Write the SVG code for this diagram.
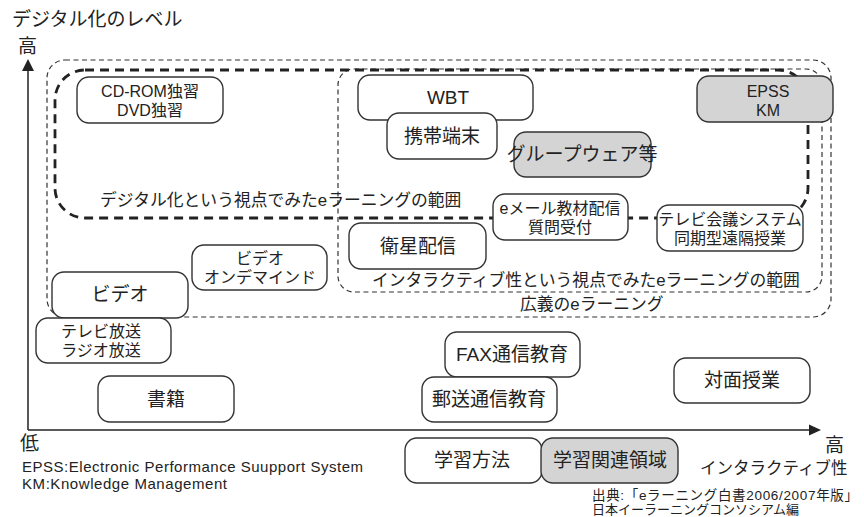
<svg xmlns="http://www.w3.org/2000/svg" width="864" height="517" viewBox="0 0 864 517">
<defs>
<style>
text{font-family:"Liberation Sans","Noto Sans CJK JP",sans-serif;fill:#222;}
.bx{fill:#fff;stroke:#333;stroke-width:1.4;}
.gy{fill:#d4d4d4;stroke:#333;stroke-width:1.4;}
.t{text-anchor:middle;font-size:19px;}
.t2{text-anchor:middle;font-size:16px;}
.fine{fill:none;stroke:#333;stroke-width:1.2;stroke-dasharray:5 3.5;}
.thick{fill:none;stroke:#222;stroke-width:2.8;stroke-dasharray:9 6;}
.axis{fill:none;stroke:#222;stroke-width:1.5;}
</style>
</defs>
<rect width="864" height="517" fill="#fff"/>

<g id="connectors">
<rect class="fine" x="47" y="60" width="784" height="257" rx="18"/>
<rect class="fine" x="338" y="69" width="484" height="223" rx="16"/>
<rect class="thick" x="55" y="70" width="753" height="148" rx="30"/>
<line class="axis" x1="28" y1="430" x2="28" y2="70"/>
<polygon points="28,59 22,71 34,71" fill="#222"/>
<line class="axis" x1="28" y1="430" x2="810" y2="430"/>
<polygon points="821,430 809,424.5 809,435.5" fill="#222"/>
</g>

<g id="labels">
<text x="12" y="26" font-size="19">デジタル化のレベル</text>
<text x="18" y="53" font-size="19">高</text>
<text x="20" y="450" font-size="19">低</text>
<text x="825" y="452" font-size="19">高</text>
<text x="700" y="474" font-size="16.5">インタラクティブ性</text>
<text x="100" y="206" font-size="16.8">デジタル化という視点でみたeラーニングの範囲</text>
<text x="372" y="286" font-size="16.8">インタラクティブ性という視点でみたeラーニングの範囲</text>
<text x="520" y="310" font-size="16.8">広義のeラーニング</text>
<text x="22" y="472" font-size="15" textLength="341">EPSS:Electronic Performance Suupport System</text>
<text x="22" y="489" font-size="15" textLength="205">KM:Knowledge Management</text>
<text x="592" y="500" font-size="13.5" textLength="266">出典:「eラーニング白書2006/2007年版」</text>
<text x="592" y="514" font-size="13">日本イーラーニングコンソシアム編</text>
</g>

<g id="n-cdrom"><rect class="bx" x="77" y="77" width="146" height="46" rx="12"/>
<text class="t2" x="150" y="97" font-size="17">CD-ROM独習</text><text class="t2" x="150" y="116" font-size="17">DVD独習</text></g>
<g id="n-wbt"><rect class="bx" x="358" y="75" width="175" height="45" rx="12"/>
<text class="t" x="448" y="104">WBT</text></g>
<g id="n-keitai"><rect class="bx" x="387" y="113" width="110" height="46" rx="12"/>
<text class="t" x="442" y="143">携帯端末</text></g>
<g id="n-groupware"><rect class="gy" x="514" y="132" width="137" height="45" rx="12"/>
<text class="t" x="582" y="161" font-size="15.5">グループウェア等</text></g>
<g id="n-email"><rect class="bx" x="493" y="194" width="135" height="46" rx="12"/>
<text class="t2" x="560" y="214">eメール教材配信</text><text class="t2" x="560" y="233">質問受付</text></g>
<g id="n-eisei"><rect class="bx" x="349" y="223" width="137" height="46" rx="12"/>
<text class="t" x="418" y="253">衛星配信</text></g>
<g id="n-epss"><rect class="gy" x="697" y="76" width="136" height="46" rx="12"/>
<text class="t2" x="768" y="97" font-size="18">EPSS</text><text class="t2" x="768" y="116" font-size="18">KM</text></g>
<g id="n-tvconf"><rect class="bx" x="657" y="205" width="146" height="46" rx="12"/>
<text class="t2" x="730" y="225" font-size="15.5">テレビ会議システム</text><text class="t2" x="730" y="244" font-size="15.5">同期型遠隔授業</text></g>
<g id="n-vod"><rect class="bx" x="192" y="245" width="135" height="45" rx="12"/>
<text class="t2" x="260" y="264">ビデオ</text><text class="t2" x="260" y="283">オンデマインド</text></g>
<g id="n-video"><rect class="bx" x="52" y="272" width="136" height="46" rx="12"/>
<text class="t" x="120" y="301" font-size="17.5">ビデオ</text></g>
<g id="n-tvradio"><rect class="bx" x="36" y="318" width="135" height="45" rx="12"/>
<text class="t2" x="101" y="337">テレビ放送</text><text class="t2" x="101" y="356">ラジオ放送</text></g>
<g id="n-shoseki"><rect class="bx" x="98" y="376" width="136" height="46" rx="12"/>
<text class="t" x="166" y="406">書籍</text></g>
<g id="n-fax"><rect class="bx" x="445" y="332" width="135" height="45" rx="12"/>
<text class="t" x="512" y="361">FAX通信教育</text></g>
<g id="n-yuso"><rect class="bx" x="422" y="377" width="135" height="45" rx="12"/>
<text class="t" x="489" y="406">郵送通信教育</text></g>
<g id="n-taimen"><rect class="bx" x="674" y="358" width="136" height="45" rx="12"/>
<text class="t" x="742" y="387">対面授業</text></g>
<g id="n-hoho"><rect class="bx" x="405" y="438" width="137" height="45" rx="12"/>
<text class="t" x="472" y="467">学習方法</text></g>
<g id="n-kanren"><rect class="gy" x="541" y="438" width="137" height="45" rx="12"/>
<text class="t" x="610" y="467">学習関連領域</text></g>
</svg>
